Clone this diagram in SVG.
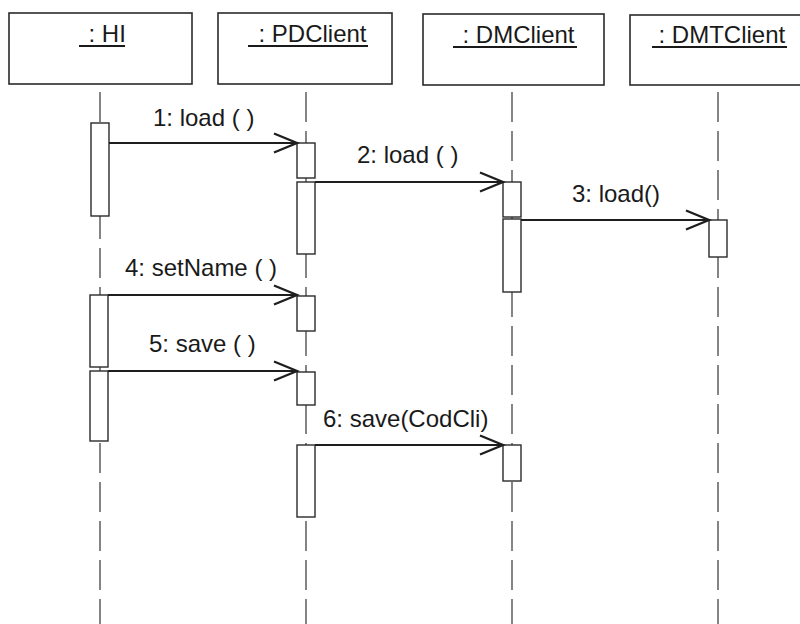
<svg xmlns="http://www.w3.org/2000/svg" width="800" height="624" viewBox="0 0 800 624">
<style>
  .hdr { fill: #fff; stroke: #2a2a2a; stroke-width: 1.6; }
  .t { font-family: "Liberation Sans", Arial, sans-serif; font-size: 24px; fill: #1a1a1a; }
  .ul { stroke: #1a1a1a; stroke-width: 2; }
  .life { stroke: #444; stroke-width: 1.3; stroke-dasharray: 30 9; fill: none; }
  .act { fill: #fff; stroke: #2a2a2a; stroke-width: 1.4; }
  .msg { stroke: #1e1e1e; stroke-width: 1.8; fill: none; marker-end: url(#open); }
</style>
<defs>
  <marker id="open" markerUnits="userSpaceOnUse" markerWidth="26" markerHeight="22" refX="24" refY="11" orient="auto" overflow="visible">
    <path d="M1,1.5 L24,11 L1,20.5" fill="none" stroke="#1e1e1e" stroke-width="2.3"/>
  </marker>
</defs>
<rect width="800" height="624" fill="#fff"/>

<g id="lifelines">
  <line class="life" x1="100" y1="92" x2="100" y2="624"/>
  <line class="life" x1="306" y1="92" x2="306" y2="624"/>
  <line class="life" x1="512" y1="92" x2="512" y2="624"/>
  <line class="life" x1="718" y1="92" x2="718" y2="624"/>
</g>

<g id="HI">
  <rect class="hdr" x="9" y="13" width="183" height="71"/>
  <text class="t" x="88.5" y="42">: HI</text>
  <line class="ul" x1="79" y1="46" x2="125" y2="46"/>
  <rect class="act" x="91" y="123" width="18" height="93"/>
  <rect class="act" x="90" y="295" width="18" height="72"/>
  <rect class="act" x="90" y="371" width="18" height="70"/>
</g>

<g id="PDClient">
  <rect class="hdr" x="218" y="13" width="174" height="71"/>
  <text class="t" x="258.5" y="42">: PDClient</text>
  <line class="ul" x1="248" y1="46" x2="368" y2="46"/>
  <rect class="act" x="297" y="143" width="18" height="35"/>
  <rect class="act" x="297" y="182" width="18" height="72"/>
  <rect class="act" x="297" y="296" width="18" height="35"/>
  <rect class="act" x="297" y="372" width="18" height="33"/>
  <rect class="act" x="297" y="445" width="18" height="72"/>
</g>

<g id="DMClient">
  <rect class="hdr" x="423" y="14" width="181" height="71"/>
  <text class="t" x="462.5" y="43">: DMClient</text>
  <line class="ul" x1="453" y1="47" x2="577" y2="47"/>
  <rect class="act" x="503" y="182" width="18" height="35"/>
  <rect class="act" x="503" y="219" width="18" height="73"/>
  <rect class="act" x="503" y="445" width="18" height="36"/>
</g>

<g id="DMTClient">
  <rect class="hdr" x="630" y="15" width="180" height="70"/>
  <text class="t" x="658.5" y="43">: DMTClient</text>
  <line class="ul" x1="652" y1="47" x2="787" y2="47"/>
  <rect class="act" x="709" y="220" width="18" height="37"/>
</g>

<g id="connectors">
  <line class="msg" x1="109" y1="143" x2="297" y2="143"/>
  <text class="t" x="153" y="126">1: load ( )</text>
  <line class="msg" x1="315" y1="182" x2="503" y2="182"/>
  <text class="t" x="357" y="163">2: load ( )</text>
  <line class="msg" x1="521" y1="220" x2="709" y2="220"/>
  <text class="t" x="572" y="202">3: load()</text>
  <line class="msg" x1="108" y1="295" x2="297" y2="295"/>
  <text class="t" x="125" y="276">4: setName ( )</text>
  <line class="msg" x1="108" y1="371" x2="297" y2="371"/>
  <text class="t" x="149" y="352">5: save ( )</text>
  <line class="msg" x1="315" y1="445" x2="503" y2="445"/>
  <text class="t" x="323" y="427">6: save(CodCli)</text>
</g>
</svg>
